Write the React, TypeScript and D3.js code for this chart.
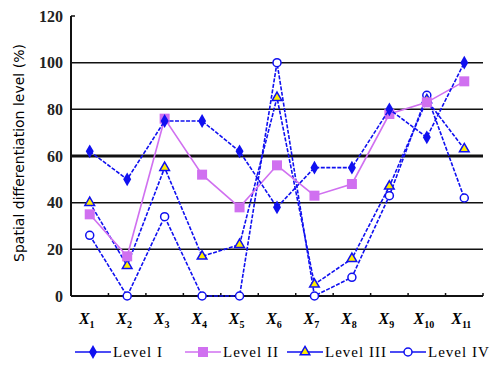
import React, { useEffect, useRef } from 'react';
import * as d3 from 'd3';

const categories = ['1', '2', '3', '4', '5', '6', '7', '8', '9', '10', '11'];
const levelI = [62, 50, 75, 75, 62, 38, 55, 55, 80, 68, 100];
const levelII = [35, 17, 76, 52, 38, 56, 43, 48, 78, 83, 92];
const levelIII = [40, 13, 55, 17, 22, 85, 5, 16, 47, 84, 63];
const levelIV = [26, 0, 34, 0, 0, 100, 0, 8, 43, 86, 42];
const yTicks = [0, 20, 40, 60, 80, 100, 120];

const BLUE = '#1010f0';
const PINK = '#d070f0';

const series = [
  { name: 'Level I', values: levelI, color: BLUE, marker: 'diamond', dash: '4 1.5' },
  { name: 'Level II', values: levelII, color: PINK, marker: 'square', dash: null },
  { name: 'Level III', values: levelIII, color: BLUE, marker: 'triangle', dash: '4 1.5' },
  { name: 'Level IV', values: levelIV, color: BLUE, marker: 'circle', dash: '4 1.5' },
];

const App = () => {
  const svgRef = useRef(null);

  useEffect(() => {
    const W = 491, H = 369;
    const margin = { top: 16, right: 8, bottom: 73, left: 71 };
    const svg = d3.select(svgRef.current);
    svg.selectAll('*').remove();
    svg.attr('width', W).attr('height', H);

    const x = d3.scaleBand().domain(categories).range([margin.left, W - margin.right]).padding(0);
    const y = d3.scaleLinear().domain([0, 120]).range([H - margin.bottom, margin.top]);
    const cx = (c) => x(c) + x.bandwidth() / 2;

    // gridlines
    svg.append('g').selectAll('line')
      .data(yTicks.filter(t => t > 0 && t < 120))
      .enter().append('line')
      .attr('x1', margin.left).attr('x2', W - margin.right)
      .attr('y1', d => y(d)).attr('y2', d => y(d))
      .attr('stroke', '#111').attr('stroke-width', d => d === 60 ? 3 : 1.5);

    // y axis
    svg.append('line')
      .attr('x1', margin.left).attr('x2', margin.left)
      .attr('y1', y(120)).attr('y2', y(0))
      .attr('stroke', '#111').attr('stroke-width', 2);
    svg.append('line')
      .attr('x1', margin.left).attr('x2', margin.left + 4)
      .attr('y1', y(120)).attr('y2', y(120))
      .attr('stroke', '#111').attr('stroke-width', 1.5);
    svg.append('g').selectAll('text')
      .data(yTicks).enter().append('text')
      .attr('x', margin.left - 8).attr('y', d => y(d)).attr('dy', '0.35em')
      .attr('text-anchor', 'end')
      .style('font-family', 'Liberation Serif, serif').style('font-size', '16px')
      .style('font-weight', 'bold').style('fill', '#222')
      .text(d => d);

    // x axis
    svg.append('line')
      .attr('x1', margin.left).attr('x2', W - margin.right)
      .attr('y1', y(0)).attr('y2', y(0))
      .attr('stroke', '#111').attr('stroke-width', 2);
    svg.append('g').selectAll('line')
      .data(categories)
      .enter().append('line')
      .attr('x1', (d, i) => margin.left + (i + 1) * x.bandwidth())
      .attr('x2', (d, i) => margin.left + (i + 1) * x.bandwidth())
      .attr('y1', y(0)).attr('y2', y(0) - 3)
      .attr('stroke', '#111').attr('stroke-width', 1.5);

    const xl = svg.append('g').selectAll('text')
      .data(categories).enter().append('text')
      .attr('x', d => cx(d) - 3).attr('y', y(0) + 28)
      .attr('text-anchor', 'middle')
      .style('font-family', 'Liberation Serif, serif').style('font-size', '16px')
      .style('font-style', 'italic').style('font-weight', 'bold');
    xl.append('tspan').text('X');
    xl.append('tspan').attr('dy', 4).style('font-size', '10px').style('font-style', 'normal').text(d => d);

    // y label
    svg.append('text')
      .attr('transform', `translate(24,${153}) rotate(-90)`)
      .attr('text-anchor', 'middle')
      .style('font-family', 'DejaVu Sans, sans-serif').style('font-size', '14px')
      .text('Spatial differentiation level (%)');

    const drawMarker = (g, s, px, py) => {
      if (s.marker === 'diamond') {
        g.append('path').attr('d', d3.symbol(d3.symbolDiamond, 55)())
          .attr('transform', `translate(${px},${py})`).attr('fill', s.color);
      } else if (s.marker === 'square') {
        g.append('rect').attr('x', px - 5).attr('y', py - 5).attr('width', 10).attr('height', 10)
          .attr('fill', s.color);
      } else if (s.marker === 'triangle') {
        g.append('path').attr('d', d3.symbol(d3.symbolTriangle, 40)())
          .attr('transform', `translate(${px},${py})`)
          .attr('fill', '#ffee00').attr('stroke', s.color).attr('stroke-width', 1.5);
      } else {
        g.append('circle').attr('cx', px).attr('cy', py).attr('r', 4)
          .attr('fill', '#fff').attr('stroke', s.color).attr('stroke-width', 1.5);
      }
    };

    const line = d3.line().x((d, i) => cx(categories[i])).y(d => y(d));

    series.slice().reverse().forEach(s => {
      const g = svg.append('g');
      g.append('path').datum(s.values)
        .attr('d', line).attr('fill', 'none')
        .attr('stroke', s.color).attr('stroke-width', 1.6)
        .attr('stroke-dasharray', s.dash);
      s.values.forEach((v, i) => drawMarker(g, s, cx(categories[i]), y(v)));
    });

    // legend
    const legendX = [75, 185, 287, 390];
    const legendY = 352;
    series.forEach((s, i) => {
      const g = svg.append('g');
      const lx = legendX[i];
      g.append('line').attr('x1', lx).attr('x2', lx + 36)
        .attr('y1', legendY).attr('y2', legendY)
        .attr('stroke', s.color).attr('stroke-width', 1.6);
      drawMarker(g, s, lx + 18, legendY);
      g.append('text').attr('x', lx + 38).attr('y', legendY).attr('dy', '0.35em')
        .style('font-family', 'Liberation Serif, serif').style('font-size', '15px')
        .style('letter-spacing', '1px')
        .text(s.name);
    });
  }, []);

  return <svg ref={svgRef} style={{ position: 'absolute', left: 0, top: 0, background: '#fff' }}></svg>;
};

export default App;
